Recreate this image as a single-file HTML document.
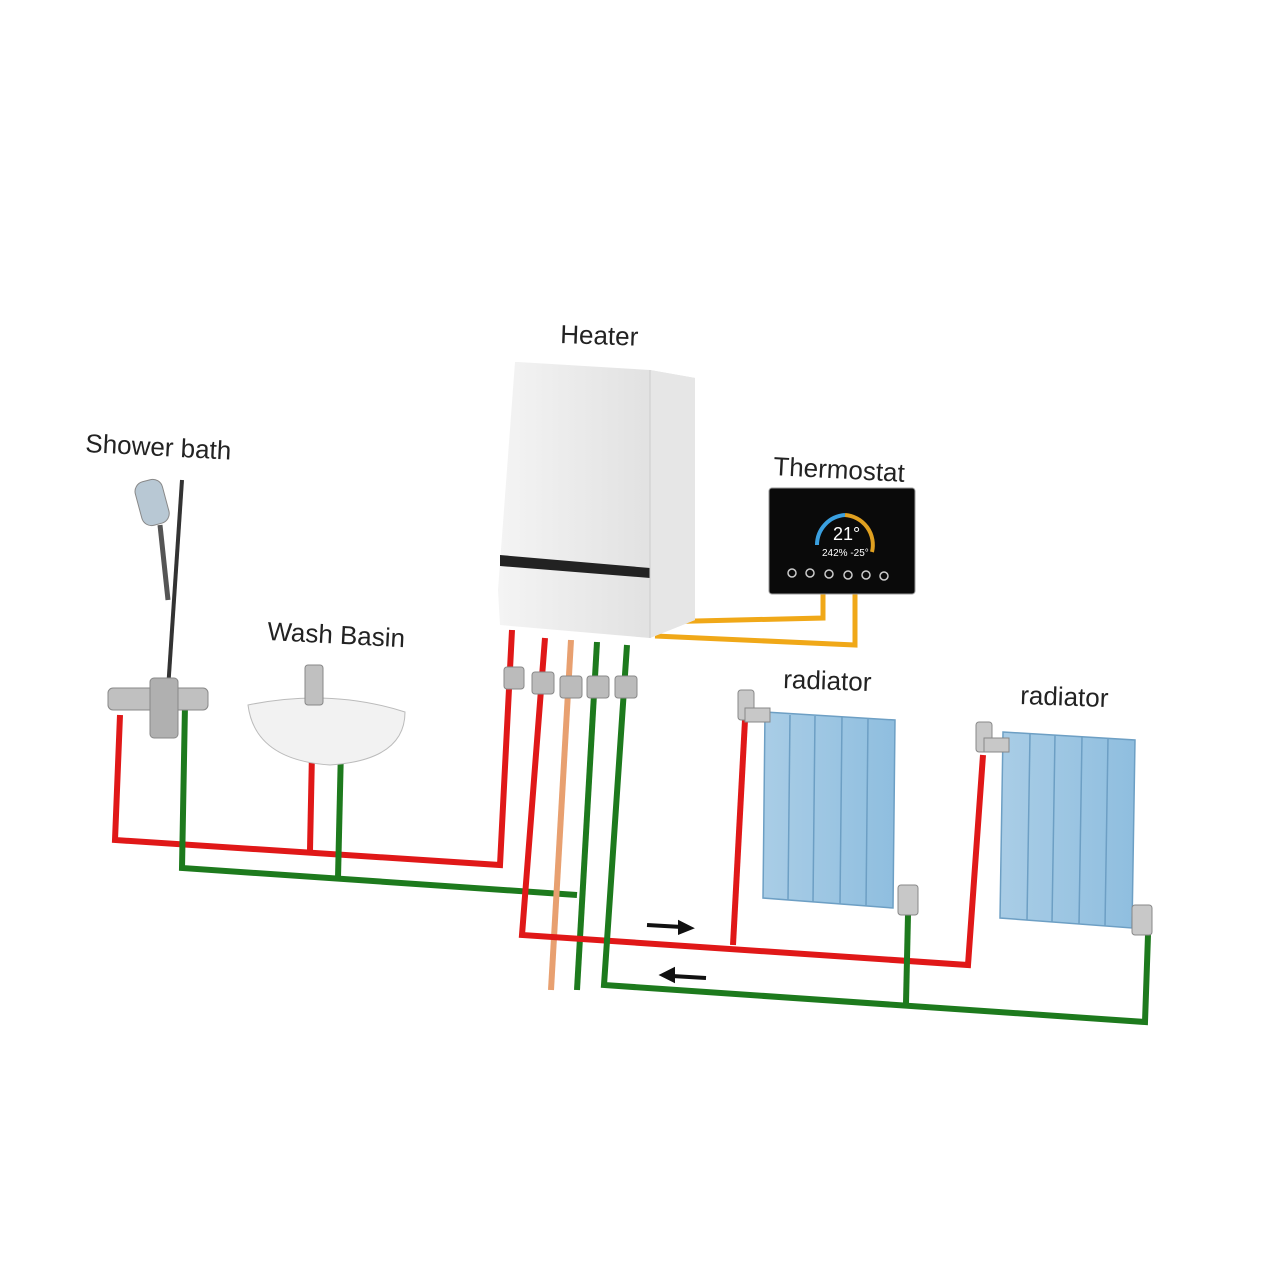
<!DOCTYPE html>
<html><head><style>body{margin:0;background:#fff}svg{display:block}text{font-family:"Liberation Sans",sans-serif;fill:#222;font-size:26px}</style></head>
<body>
<svg width="1286" height="1286" viewBox="0 0 1286 1286">
<defs>
<linearGradient id="hf" x1="0" x2="1"><stop offset="0" stop-color="#f4f4f4"/><stop offset="1" stop-color="#dcdcdc"/></linearGradient>
<linearGradient id="rb" x1="0" x2="1"><stop offset="0" stop-color="#a9cde6"/><stop offset="1" stop-color="#8fbedf"/></linearGradient>
</defs>
<!-- labels -->
<text x="560" y="343" transform="rotate(2 560 343)">Heater</text>
<text x="85" y="452" transform="rotate(3 85 452)">Shower bath</text>
<text x="267" y="640" transform="rotate(3 267 640)">Wash Basin</text>
<text x="773" y="475" transform="rotate(3 773 475)">Thermostat</text>
<text x="783" y="688" transform="rotate(2 783 688)">radiator</text>
<text x="1020" y="704" transform="rotate(2 1020 704)">radiator</text>
<!-- orange wires -->
<g fill="none" stroke="#f0a818" stroke-width="5">
<polyline points="655,622 823,618 823,593"/>
<polyline points="655,636 855,645 855,593"/>
</g>
<!-- pipes -->
<g fill="none" stroke-width="6" stroke-linejoin="miter">
<polyline stroke="#e01818" points="120,715 115,840 500,865 512,630"/>
<line stroke="#e01818" x1="312" y1="752" x2="310" y2="850"/>
<polyline stroke="#1d7a1d" points="185,705 182,868 577,895"/>
<line stroke="#1d7a1d" x1="341" y1="748" x2="338" y2="878"/>
<polyline stroke="#e8a070" points="571,640 551,990"/>
<polyline stroke="#1d7a1d" points="597,642 577,990"/>
<polyline stroke="#e01818" points="545,638 522,935 968,965 983,755"/>
<line stroke="#e01818" x1="745" y1="720" x2="733" y2="945"/>
<polyline stroke="#1d7a1d" points="627,645 604,985 1145,1022 1148,935"/>
<line stroke="#1d7a1d" x1="908" y1="915" x2="906" y2="1003"/>
</g>
<!-- fittings on pipes -->
<g fill="#bbb" stroke="#888" stroke-width="1">
<rect x="504" y="667" width="20" height="22" rx="3"/><rect x="532" y="672" width="22" height="22" rx="3"/>
<rect x="560" y="676" width="22" height="22" rx="3"/><rect x="587" y="676" width="22" height="22" rx="3"/>
<rect x="615" y="676" width="22" height="22" rx="3"/>
</g>
<!-- arrows -->
<g stroke="#111" stroke-width="4" fill="#111">
<line x1="647" y1="925" x2="682" y2="927"/><polygon points="690,928 680,923 680,932"/>
<line x1="672" y1="976" x2="706" y2="978"/><polygon points="663,975 673,970 673,980"/>
</g>
<!-- heater -->
<polygon points="518,362 650,370 695,378 695,620 650,638 500,625 498,590 515,362" fill="url(#hf)"/>
<polygon points="650,370 695,378 695,620 650,638" fill="#e6e6e6"/>
<polygon points="500,555 650,568 650,578 500,566" fill="#222"/>
<line x1="650" y1="370" x2="650" y2="638" stroke="#ccc"/>
<!-- thermostat -->
<rect x="769" y="488" width="146" height="106" rx="3" fill="#0a0a0a" stroke="#999" stroke-width="1"/>
<path d="M817,545 A30,30 0 0 1 845,515" fill="none" stroke="#3aa0e0" stroke-width="4"/>
<path d="M845,515 A30,30 0 0 1 872,552" fill="none" stroke="#e0a020" stroke-width="4"/>
<text x="833" y="540" style="fill:#fff;font-size:18px">21°</text>
<text x="822" y="556" style="fill:#fff;font-size:10px">242% -25°</text>
<g fill="none" stroke="#ccc" stroke-width="1.5"><circle cx="792" cy="573" r="4"/><circle cx="810" cy="573" r="4"/><circle cx="829" cy="574" r="4"/><circle cx="848" cy="575" r="4"/><circle cx="866" cy="575" r="4"/><circle cx="884" cy="576" r="4"/></g>
<!-- radiators -->
<g stroke="#6d9fc4" stroke-width="1.5">
<polygon points="765,712 895,720 893,908 763,898" fill="url(#rb)"/>
<line x1="790" y1="715" x2="788" y2="900"/><line x1="815" y1="716" x2="813" y2="902"/><line x1="842" y1="717" x2="840" y2="904"/><line x1="868" y1="719" x2="866" y2="906"/>
<polygon points="1003,732 1135,740 1132,928 1000,918" fill="url(#rb)"/>
<line x1="1030" y1="734" x2="1027" y2="920"/><line x1="1055" y1="735" x2="1052" y2="922"/><line x1="1082" y1="737" x2="1079" y2="924"/><line x1="1108" y1="739" x2="1105" y2="926"/>
</g>
<g fill="#c8c8c8" stroke="#888"><rect x="738" y="690" width="16" height="30" rx="3"/><rect x="745" y="708" width="25" height="14"/><rect x="898" y="885" width="20" height="30" rx="3"/>
<rect x="976" y="722" width="16" height="30" rx="3"/><rect x="984" y="738" width="25" height="14"/><rect x="1132" y="905" width="20" height="30" rx="3"/></g>
<!-- shower -->
<g>
<rect x="138" y="480" width="28" height="45" rx="10" fill="#b8c8d4" stroke="#888" transform="rotate(-15 152 502)"/>
<line x1="160" y1="525" x2="168" y2="600" stroke="#555" stroke-width="5"/>
<line x1="182" y1="480" x2="168" y2="690" stroke="#333" stroke-width="4"/>
<rect x="108" y="688" width="100" height="22" rx="5" fill="#c0c0c0" stroke="#888"/>
<rect x="150" y="678" width="28" height="60" rx="4" fill="#b0b0b0" stroke="#888"/>
</g>
<!-- basin -->
<path d="M248,705 Q330,688 405,712 Q405,760 330,765 Q255,760 248,705 Z" fill="#f2f2f2" stroke="#bbb"/>
<rect x="305" y="665" width="18" height="40" rx="3" fill="#c0c0c0" stroke="#888"/>
</svg>
</body></html>
